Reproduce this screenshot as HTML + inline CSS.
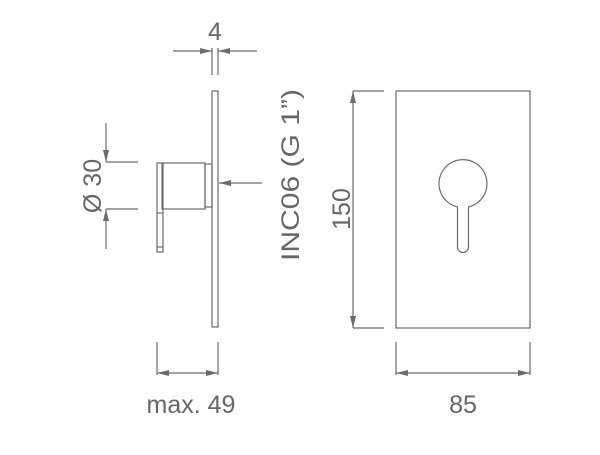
<!DOCTYPE html>
<html><head><style>body{margin:0;background:#fff}</style></head><body>
<svg width="600" height="450" viewBox="0 0 600 450" xmlns="http://www.w3.org/2000/svg" font-family="Liberation Sans, sans-serif" fill="none" stroke="#6b6b6b" stroke-width="1.2">
<defs>
<marker id="a" viewBox="0 0 12 6" refX="12" refY="3" markerWidth="12" markerHeight="6" markerUnits="userSpaceOnUse" orient="auto-start-reverse"><path d="M0,0 L12,3 L0,6 z" fill="#6b6b6b" stroke="none"/></marker>
</defs>
<line x1="212" y1="48" x2="212" y2="75"/><line x1="218" y1="48" x2="218" y2="75"/>
<line x1="173" y1="51" x2="212" y2="51" marker-end="url(#a)"/>
<line x1="257" y1="51" x2="218" y2="51" marker-end="url(#a)"/>
<rect x="212" y="91" width="6" height="236"/>
<rect x="205" y="164" width="7" height="43"/>
<rect x="162" y="163" width="43" height="46"/>
<rect x="157" y="163" width="6" height="89"/>
<line x1="157" y1="213" x2="163" y2="213"/><line x1="157" y1="247" x2="163" y2="247"/>
<line x1="106" y1="162" x2="138" y2="162"/><line x1="106" y1="209" x2="138" y2="209"/>
<line x1="106" y1="123" x2="106" y2="162" marker-end="url(#a)"/>
<line x1="106" y1="249" x2="106" y2="209" marker-end="url(#a)"/>
<line x1="262" y1="183" x2="219" y2="183" marker-end="url(#a)"/>
<rect x="396" y="91" width="134" height="237"/>
<path d="M457.5,207 A24,24 0 1 1 468.5,207 L468.5,247 A5.5,5.5 0 0 1 457.5,247 Z"/>
<line x1="353" y1="91" x2="384" y2="91"/><line x1="353" y1="328" x2="384" y2="328"/>
<line x1="353" y1="91" x2="353" y2="328" marker-start="url(#a)" marker-end="url(#a)"/>
<line x1="396" y1="342" x2="396" y2="375"/><line x1="530" y1="342" x2="530" y2="375"/>
<line x1="396" y1="373" x2="530" y2="373" marker-start="url(#a)" marker-end="url(#a)"/>
<line x1="157" y1="342" x2="157" y2="375"/><line x1="218" y1="342" x2="218" y2="375"/>
<line x1="157" y1="373" x2="218" y2="373" marker-start="url(#a)" marker-end="url(#a)"/>
<g fill="#666" stroke="none" font-size="25">
<text x="215" y="40" text-anchor="middle">4</text>
<text x="191" y="413" text-anchor="middle">max. 49</text>
<text x="463" y="413" text-anchor="middle">85</text>
<text transform="translate(101,186) rotate(-90)" text-anchor="middle">Ø 30</text>
<text transform="translate(299,175) rotate(-90)" text-anchor="middle" textLength="172" lengthAdjust="spacingAndGlyphs">INC06 (G 1”)</text>
<text transform="translate(350,209) rotate(-90)" text-anchor="middle">150</text>
</g>
</svg>
</body></html>
